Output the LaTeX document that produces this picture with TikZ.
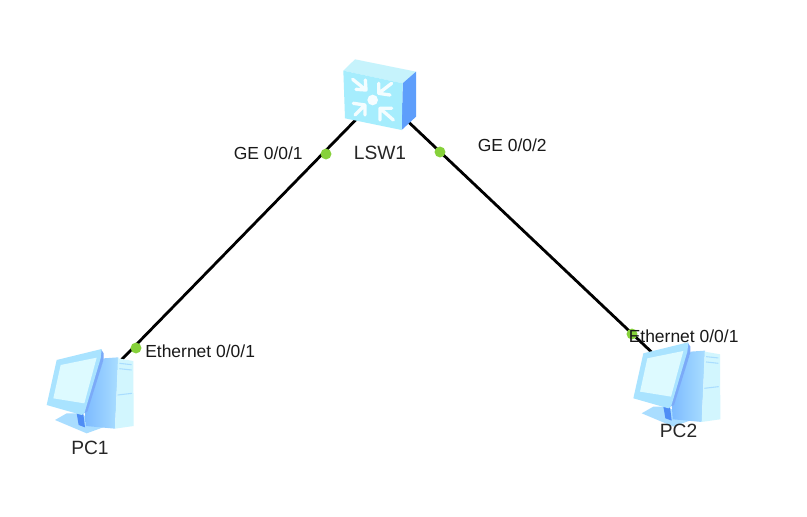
\documentclass[tikz,border=0pt]{standalone}
\usepackage{fontspec}
\setmainfont{Liberation Sans}
\definecolor{swfront}{HTML}{A6EDFD}
\definecolor{swtop}{HTML}{C6F3FC}
\definecolor{swside}{HTML}{5E9EFB}
\definecolor{pcpale}{HTML}{D2F6FE}
\definecolor{pcmid}{HTML}{7DBBFF}
\definecolor{pcsoft}{HTML}{A9DDFF}
\definecolor{pcdeep}{HTML}{4F8DF5}
\definecolor{pcscreen}{HTML}{DDFAFF}
\definecolor{pcframe}{HTML}{A9E3FF}
\definecolor{portdot}{HTML}{86D13A}
\tikzset{
  link/.style={line width=2.1pt,black},
  port/.style={circle,fill=portdot,draw=none,minimum size=8.2pt,inner sep=0pt},
  lbl/.style={font=\fontsize{13.1}{15}\selectfont,text=black!90,inner sep=0pt},
  namelbl/.style={font=\fontsize{14.4}{17}\selectfont,text=black!85,inner sep=0pt},
  anchorpt/.style={inner sep=0pt,minimum size=0pt},
  swarrow/.style={white!88!swfront,line width=2.5pt,line cap=round,line join=round},
  pics/pcicon/.style={code={
    \begin{scope}[x=0.25pt,y=0.25pt]
      % stand
      \fill[pcsoft] (75,270) -- (110,250) -- (150,250) -- (225,290) -- (170,310) -- cycle;
      \fill[pcdeep] (140,250) -- (160,252) -- (165,292) -- (146,285) -- cycle;
      % tower
      \shade[left color=pcmid,right color=pcsoft] (165,240) -- (222,85) -- (265,82) -- (255,296) -- (168,288) -- cycle;
      \fill[pcpale] (264,85) -- (310,93) -- (311,288) -- (255,296) -- cycle;
      \draw[pcsoft,line width=0.8pt] (268,100) -- (305,104) (268,116) -- (305,120) (263,195) -- (306,190);
      % monitor
      \fill[pcdeep!75] (213,58) -- (221,70) -- (221,88) -- (172,245) -- (160,250) -- cycle;
      \fill[pcframe] (50,225) -- (80,90) -- (215,57) -- (212,85) -- (163,250) -- (155,255) -- cycle;
      \fill[pcscreen] (70,205) -- (92,105) -- (200,83) -- (163,220) -- cycle;
    \end{scope}
  }},
}
\begin{document}
\begin{tikzpicture}[x=0.75pt,y=-0.75pt]
\useasboundingbox (0,0) rectangle (807,517);
\fill[white] (0,0) rectangle (807,517);
\node[anchorpt] (sw) at (380,95) {};
\node[anchorpt] (pc1) at (90,392) {};
\node[anchorpt] (pc2) at (680,379) {};
\draw[link] (pc1) -- (sw);
\draw[link] (sw) -- (pc2);
% switch
\begin{scope}[shift={(330,50)},x=0.25pt,y=-0.25pt]
  \fill[swtop] (40,62) -- (75,28) -- (258,65) -- (218,100) -- cycle;
  \fill[swside] (218,100) -- (258,65) -- (258,200) -- (215,240) -- cycle;
  \fill[swfront] (40,62) -- (218,100) -- (215,240) -- (45,205) -- cycle;
  \fill[white!90!swfront] (128,150) circle (16);
  \draw[swarrow] (68,88) -- (108,120) (78,118) -- (108,120) -- (106,90);
  \draw[swarrow] (185,100) -- (146,130) (146,100) -- (146,130) -- (180,135);
  \draw[swarrow] (75,195) -- (105,165) (70,160) -- (105,165) -- (105,195);
  \draw[swarrow] (190,210) -- (150,175) (185,175) -- (150,175) -- (150,210);
\end{scope}
\pic[yscale=-1] at (30,330) {pcicon};
\pic[yscale=-1] at (616.7,323.3) {pcicon};
% ports
\node[port] (p1) at (326,154) {};
\node[port] (p2) at (440,152) {};
\node[port] (p3) at (136,348) {};
\node[port] (p4) at (632,334) {};
% labels
\node[lbl,anchor=west] (l1) at (233.5,153) {GE 0/0/1};
\node[lbl,anchor=west] (l2) at (477.5,145) {GE 0/0/2};
\node[lbl,anchor=west] (l3) at (145,351.5) {Ethernet 0/0/1};
\node[lbl,anchor=west] (l4) at (628.5,336.5) {Ethernet 0/0/1};
\node[namelbl] (n0) at (380,153) {LSW1};
\node[namelbl] (n1) at (90,448) {PC1};
\node[namelbl] (n2) at (678.5,431) {PC2};
\end{tikzpicture}
\end{document}
